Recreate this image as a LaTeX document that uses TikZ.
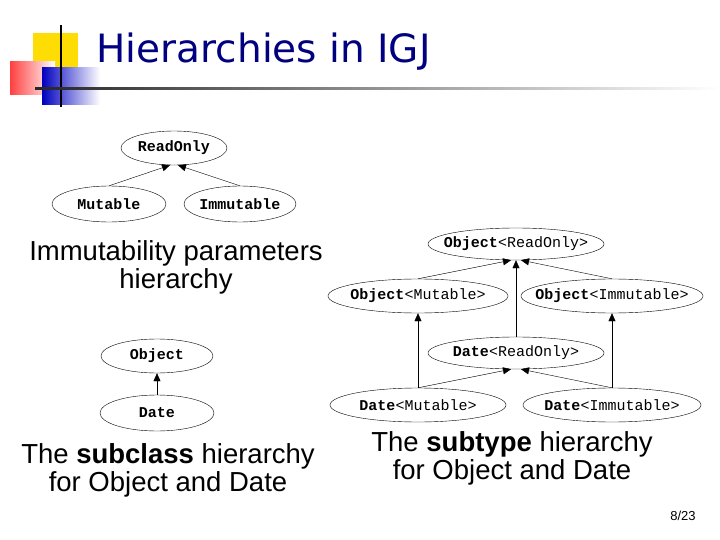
\documentclass[tikz,border=0pt]{standalone}
\usepackage{fontspec}
\setmainfont{Liberation Sans}
\newfontfamily\monof{Liberation Mono}
\newfontfamily\titlef{DejaVu Sans}
\usetikzlibrary{shapes.geometric,arrows.meta}
\begin{document}
\begin{tikzpicture}[x=1pt,y=-1pt,
  el/.style={ellipse,draw,thin,inner xsep=-18pt,inner ysep=0pt,font=\monof\fontsize{15}{17}\selectfont},
  ed/.style={draw,-{Triangle[length=8pt,width=7pt]},thin},
  captext/.style={align=center,font=\fontsize{27.5}{28}\selectfont}]
\useasboundingbox (0,0) rectangle (720,540);
\fill[white] (0,0) rectangle (720,540);
% logo
\fill[yellow!80!orange] (33,33) rectangle (78,70);
\shade[left color=red!75, right color=white] (10,62) rectangle (55,95);
\shade[left color=blue!75!black, right color=white] (42,68) rectangle (100,105);
\draw[line width=2.2pt] (61,25) -- (61,107);
\shade[left color=black!85, right color=white] (35,88) rectangle (720,90);
\node[anchor=west,text=blue!50!black,font=\titlef\fontsize{39}{42}\selectfont] (title) at (93,52) {Hierarchies in IGJ};
% left top
\node[el,minimum width=106pt,minimum height=34pt] (ro) at (174,148) {\bfseries ReadOnly};
\node[el,minimum width=114pt,minimum height=36pt] (mu) at (109,204) {\bfseries Mutable};
\node[el,minimum width=112pt,minimum height=36pt] (im) at (240,204) {\bfseries Immutable};
\draw[ed] (mu.north) -- ([xshift=-4pt]ro.south);
\draw[ed] (im.north) -- ([xshift=4pt]ro.south);
\node[captext] (c1) at (176,267) {Immutability parameters\\hierarchy};
% left bottom
\node[el,minimum width=112pt,minimum height=34pt] (ob) at (157,356) {\bfseries Object};
\node[el,minimum width=114pt,minimum height=36pt] (da) at (157,413) {\bfseries Date};
\draw[ed] (da) -- (ob);
\node[captext] (c2) at (168,470) {The \textbf{subclass} hierarchy\\for Object and Date};
% right
\node[el,minimum width=176pt,minimum height=32pt] (oro) at (516,244) {\textbf{Object}<ReadOnly>};
\node[el,minimum width=180pt,minimum height=34pt] (omu) at (418,296) {\textbf{Object}<Mutable>};
\node[el,minimum width=182pt,minimum height=34pt] (oim) at (612,296) {\textbf{Object}<Immutable>};
\node[el,minimum width=176pt,minimum height=32pt] (dro) at (516,353) {\textbf{Date}<ReadOnly>};
\node[el,minimum width=176pt,minimum height=34pt] (dmu) at (418,405) {\textbf{Date}<Mutable>};
\node[el,minimum width=178pt,minimum height=34pt] (dim) at (612,405) {\textbf{Date}<Immutable>};
\draw[ed] (omu.north) -- ([xshift=-5pt]oro.south);
\draw[ed] (oim.north) -- ([xshift=5pt]oro.south);
\draw[ed] (dro.north) -- (oro.south);
\draw[ed] (dmu.north) -- (omu.south);
\draw[ed] (dim.north) -- (oim.south);
\draw[ed] (dmu.north) -- ([xshift=-5pt]dro.south);
\draw[ed] (dim.north) -- ([xshift=5pt]dro.south);
\node[captext] (c3) at (512,458) {The \textbf{subtype} hierarchy\\for Object and Date};
\node[font=\fontsize{13}{15}\selectfont] (pg) at (683,516) {8/23};
\end{tikzpicture}
\end{document}
